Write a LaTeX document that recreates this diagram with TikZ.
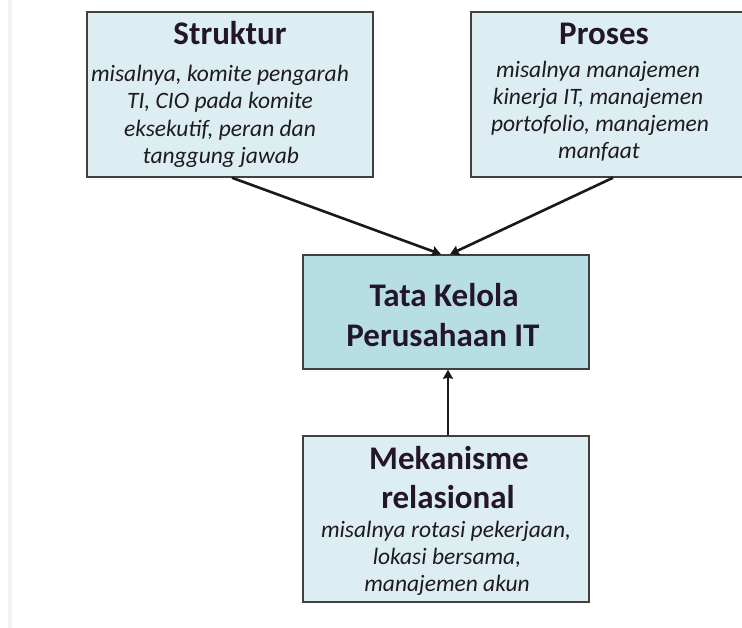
\documentclass[tikz,border=0pt]{standalone}
\usepackage{fontspec}
\setmainfont{Carlito}
\usetikzlibrary{arrows.meta,calc}
\definecolor{boxpale}{RGB}{221,238,242}
\definecolor{boxcore}{RGB}{183,222,228}
\definecolor{edgegray}{RGB}{64,64,64}
\definecolor{headink}{RGB}{36,22,42}
\definecolor{bodyink}{RGB}{30,26,32}
\begin{document}
\begin{tikzpicture}[x=1pt,y=-1pt,
  box/.style={draw=edgegray,line width=1.5pt,inner sep=0pt,rectangle},
  head/.style={anchor=base,inner sep=0pt,font=\fontsize{33}{40}\selectfont\bfseries,text=headink},
  body/.style={anchor=base,inner sep=0pt,font=\fontsize{23.5}{27}\selectfont\itshape,text=bodyink},
  link/.style={line width=2.6pt,draw=black!90,-{Stealth[length=9pt,width=10pt,inset=1pt]}}
]
\useasboundingbox (0,0) rectangle (742,628);
\clip (0,0) rectangle (742,628);
\fill[white] (0,0) rectangle (742,628);
% faint rule at the left edge
\draw[black!5,line width=4pt] (10,0) -- (10,628);

% boxes
\node[box,fill=boxpale,minimum width=286pt,minimum height=165pt] (struk) at (230,94.5) {};
\node[box,fill=boxpale,minimum width=290pt,minimum height=165pt] (proc) at (616,94.5) {};
\node[box,fill=boxcore,minimum width=286pt,minimum height=114pt] (tata) at (446,312) {};
\node[box,fill=boxpale,minimum width=286pt,minimum height=166pt] (mek) at (446,519) {};

% connectors
\draw[link] ($(struk.south)+(2,0)$) -- ($(tata.north)+(-5,0)$);
\draw[link] ($(proc.south)+(-3,0)$) -- ($(tata.north)+(4,0)$);
\draw[link] ($(mek.north)+(2,0)$) -- ($(tata.south)+(2,0)$);

% Struktur
\node[head] (st0) at (230,45) {Struktur};
\node[body] (st1) at (220,81.7) {misalnya, komite pengarah};
\node[body] (st2) at (220,109) {TI, CIO pada komite};
\node[body] (st3) at (220,136.5) {eksekutif, peran dan};
\node[body] (st4) at (221,163.5) {tanggung jawab};

% Proses
\node[head] (pr0) at (604,45) {Proses};
\node[body] (pr1) at (598,77.3) {misalnya manajemen};
\node[body] (pr2) at (598,105) {kinerja IT, manajemen};
\node[body] (pr3) at (600,131.7) {portofolio, manajemen};
\node[body] (pr4) at (599,159) {manfaat};

% Tata Kelola
\node[head] (tk1) at (444,306.7) {Tata Kelola};
\node[head] (tk2) at (443,346.7) {Perusahaan IT};

% Mekanisme relasional
\node[head] (mk1) at (449,469) {Mekanisme};
\node[head] (mk2) at (448,508) {relasional};
\node[body] (mk3) at (446,537) {misalnya rotasi pekerjaan,};
\node[body] (mk4) at (447,564) {lokasi bersama,};
\node[body] (mk5) at (447,591) {manajemen akun};
\end{tikzpicture}
\end{document}
